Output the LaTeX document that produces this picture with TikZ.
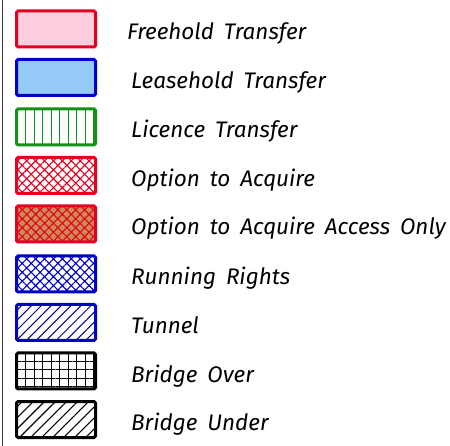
\documentclass[tikz,border=0pt]{standalone}
\usepackage{fontspec}
\newfontfamily\keyfont[WordSpace=1.7]{Fira Sans}
\usetikzlibrary{patterns.meta}

\definecolor{keyred}{RGB}{228,0,32}
\definecolor{keypink}{RGB}{255,206,222}
\definecolor{keyblue}{RGB}{0,0,200}
\definecolor{keysky}{RGB}{150,202,246}
\definecolor{keygreen}{RGB}{20,145,20}
\definecolor{keytan}{RGB}{205,140,85}

\tikzset{
  keybox/.style={draw, line width=3pt, rounded corners=1.5pt, minimum width=79pt, minimum height=36pt, inner sep=0pt},
  keytext/.style={anchor=base west, inner sep=0pt, font=\keyfont\itshape\fontsize{22.5}{23}\selectfont},
  freehold/.style={keybox, draw=keyred, fill=keypink},
  leasehold/.style={keybox, draw=keyblue, fill=keysky},
  licence/.style={keybox, draw=keygreen, pattern={Lines[angle=90, distance=8.5pt, line width=1pt]}, pattern color=keygreen},
  option/.style={keybox, draw=keyred, pattern={Hatch[angle=45, distance=6.3pt, line width=1.1pt]}, pattern color=keyred},
  optaccess/.style={keybox, draw=keyred, preaction={fill=keytan}, pattern={Hatch[angle=45, distance=6.3pt, line width=1.1pt]}, pattern color=keyred},
  running/.style={keybox, draw=keyblue, pattern={Hatch[angle=45, distance=6.3pt, line width=1.1pt]}, pattern color=keyblue},
  tunnel/.style={keybox, draw=keyblue, pattern={Lines[angle=45, distance=7pt, line width=1pt]}, pattern color=keyblue!70!black},
  bridgeover/.style={keybox, draw=black, pattern={Hatch[angle=0, distance=8.5pt, line width=0.9pt]}, pattern color=black},
  bridgeunder/.style={keybox, draw=black, pattern={Lines[angle=45, distance=7.8pt, line width=1.1pt]}, pattern color=black}
}

\begin{document}
\begin{tikzpicture}[x=1pt, y=-1pt]
		\useasboundingbox (0,0) rectangle (450,446);
		
		% left edge of the key
		\draw[line width=1pt, color=black!75] (2.5,0) -- (2.5,446);
		
		% symbols
		\node[freehold] (freehold) at (56,29) {};
		\node[leasehold] (leasehold) at (56,77.5) {};
		\node[licence] (licence) at (56,127) {};
		\node[option] (option) at (56,175.5) {};
		\node[optaccess] (optaccess) at (56,224) {};
		\node[running] (running) at (56,274) {};
		\node[tunnel] (tunnel) at (56,322.5) {};
		\node[bridgeover] (bridgeover) at (56,371) {};
		\node[bridgeunder] (bridgeunder) at (56,419.5) {};
		
		% labels
		\node[keytext] (freeholdtxt) at (127,40) {Freehold Transfer};
		\node[keytext] (leaseholdtxt) at (131,88.5) {Leasehold Transfer};
		\node[keytext] (licencetxt) at (131,138) {Licence Transfer};
		\node[keytext] (optiontxt) at (131,186.5) {Option to Acquire};
		\node[keytext] (optaccesstxt) at (131,235) {Option to Acquire Access Only};
		\node[keytext] (runningtxt) at (131,285) {Running Rights};
		\node[keytext] (tunneltxt) at (131,333.5) {Tunnel};
		\node[keytext] (bridgeovertxt) at (131,382) {Bridge Over};
		\node[keytext] (bridgeundertxt) at (131,430.5) {Bridge Under};
	\end{tikzpicture}
\end{document}
